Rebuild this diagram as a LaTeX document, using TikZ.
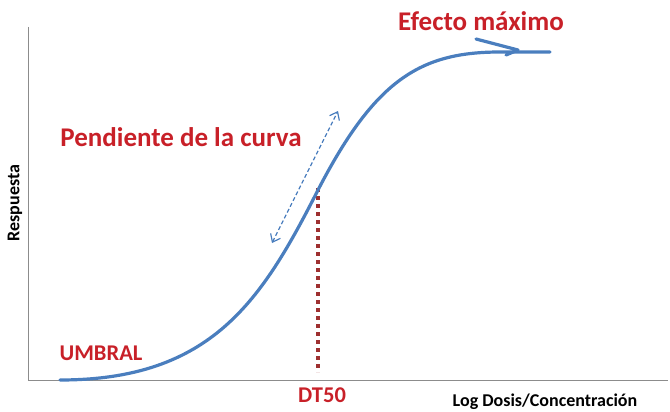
\documentclass[tikz,border=0pt]{standalone}
\usepackage{fontspec}
\setmainfont{Carlito}
\usetikzlibrary{arrows.meta}
\definecolor{redlab}{RGB}{200,32,40}
\definecolor{curveblue}{RGB}{74,126,190}
\definecolor{dotred}{RGB}{158,48,48}
\definecolor{axisgray}{RGB}{140,140,140}
\tikzset{
  lab/.style={font=\bfseries\fontsize{27}{32}\selectfont, text=redlab, inner sep=0pt},
  smalllab/.style={font=\bfseries\fontsize{22.5}{27}\selectfont, text=redlab, inner sep=0pt},
  axlab/.style={font=\bfseries\fontsize{18}{22}\selectfont, text=black, inner sep=0pt},
  curve/.style={draw=curveblue, line width=3.2pt},
}
\begin{document}
\begin{tikzpicture}[x=1pt,y=-1pt]
\useasboundingbox (0,0) rectangle (670,412);
% axes
\coordinate (ytop) at (28,27);
\coordinate (origin) at (28,380);
\coordinate (xend) at (668,380);
\draw[axisgray, line width=0.8pt] (ytop) -- (origin) -- (xend);
% dotted DT50 line
\coordinate (dtTop) at (318,188);
\coordinate (dtBot) at (318,372);
\draw[dotred, line width=4pt, dash pattern=on 4pt off 4pt] (dtTop) -- (dtBot);
% curve
\draw[curve, line cap=round] (60,380) .. controls (212,380) and (262,300) .. (318,190)
  .. controls (375,80) and (420,52) .. (500,52) -- (550,52);
% max arrow
\draw[curve, line cap=round, line join=round] (476,39) -- (518,50) -- (506,55);
% dashed slope arrow
\coordinate (sA) at (272,243);
\coordinate (sB) at (338,111);
\draw[curveblue, line width=1.2pt, dashed, dash pattern=on 4pt off 2.5pt,
  {Straight Barb[length=7pt,width=11pt,line width=1.2pt]}-{Straight Barb[length=7pt,width=11pt,line width=1.2pt]}] (sA) -- (sB);
% labels
\node[lab] (efecto) at (481,21) {Efecto máximo};
\node[lab] (pend) at (181,137) {Pendiente de la curva};
\node[smalllab] (umbral) at (101,353) {UMBRAL};
\node[smalllab] (dt50) at (322,395) {DT50};
\node[axlab] (xlab) at (545,402) {Log Dosis/Concentración};
\node[axlab, rotate=90] (ylab) at (15,203) {Respuesta};
\end{tikzpicture}
\end{document}
